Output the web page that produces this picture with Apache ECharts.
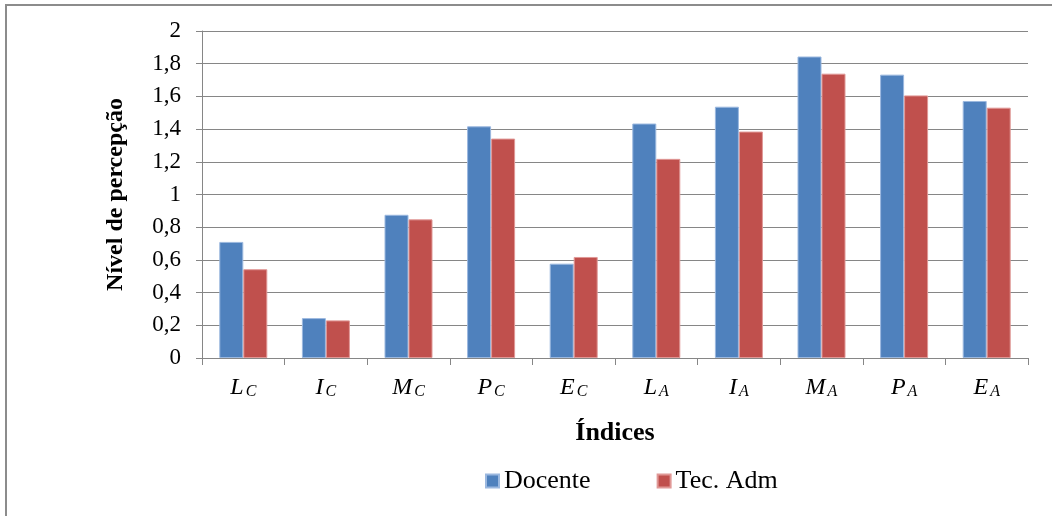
<!DOCTYPE html>
<html>
<head>
<meta charset="utf-8">
<script src="https://cdn.jsdelivr.net/npm/echarts@6/dist/echarts.min.js"></script>
<style>
  html, body { margin: 0; padding: 0; background: #fff; }
  #chart { width: 1052px; height: 516px; }
</style>
</head>
<body>
<div id="chart"></div>
<script>
// index letters: main letter + subscript
const indexMain = ["L", "I", "M", "P", "E", "L", "I", "M", "P", "E"];
const indexSub = ["C", "C", "C", "C", "C", "A", "A", "A", "A", "A"];

const docente = [0.71, 0.244, 0.876, 1.417, 0.577, 1.434, 1.537, 1.844, 1.733, 1.572];
const tecAdm = [0.543, 0.23, 0.848, 1.342, 0.618, 1.218, 1.385, 1.739, 1.606, 1.531];

const yTicks = ["0", "0,2", "0,4", "0,6", "0,8", "1", "1,2", "1,4", "1,6", "1,8", "2"];

const serif = "'Liberation Serif', 'DejaVu Serif', serif";
const axisGray = "#868686";

const chart = echarts.init(document.getElementById("chart"));

const categories = indexMain.map((m, i) => m + "_" + indexSub[i]);

const option = {
    backgroundColor: "#fff",
    animation: false,
    textStyle: { fontFamily: serif },
    graphic: [
        {
            // frame of the figure, only top and left edges visible
            type: "polyline",
            shape: { points: [[6, 700], [6, 5], [1300, 5]] },
            style: { fill: null, stroke: "#8c8c8c", lineWidth: 2 }
        }
    ],
    grid: { left: 202, right: 24, top: 31, bottom: 158 },
    legend: {
        data: ["Docente", "Tec. Adm"],
        left: 480,
        top: 463,
        itemWidth: 13,
        itemHeight: 13,
        itemGap: 66,
        icon: "rect",
        textStyle: { fontFamily: serif, fontSize: 26, color: "#000" }
    },
    xAxis: {
        type: "category",
        data: categories,
        name: "Índices",
        nameLocation: "middle",
        nameGap: 62,
        nameTextStyle: { fontFamily: serif, fontSize: 26, fontWeight: "bold", color: "#000" },
        axisLine: { lineStyle: { color: axisGray } },
        axisTick: { show: true, length: 7, interval: 0, lineStyle: { color: axisGray } },
        axisLabel: {
            margin: 18,
            interval: 0,
            formatter: (v) => {
                const [m, s] = v.split("_");
                return "{m|" + m + "}{s|" + s + "}";
            },
            rich: {
                m: { fontFamily: serif, fontStyle: "italic", fontSize: 24, color: "#000", verticalAlign: "bottom", lineHeight: 24 },
                s: { fontFamily: serif, fontStyle: "italic", fontSize: 16, color: "#000", verticalAlign: "bottom", lineHeight: 22, padding: [0, 0, 0, 2] }
            }
        }
    },
    yAxis: {
        type: "value",
        min: 0,
        max: 2,
        interval: 0.2,
        name: "Nível de percepção",
        nameLocation: "middle",
        nameGap: 74,
        nameRotate: 90,
        nameTextStyle: { fontFamily: serif, fontSize: 24, fontWeight: "bold", color: "#000" },
        axisLine: { show: true, lineStyle: { color: axisGray } },
        axisTick: { show: true, length: 6, lineStyle: { color: axisGray } },
        splitLine: { lineStyle: { color: axisGray, width: 1 } },
        axisLabel: {
            margin: 21,
            fontFamily: serif,
            fontSize: 23,
            color: "#000",
            formatter: (v) => yTicks[Math.round(v / 0.2)]
        }
    },
    series: [
        {
            name: "Docente",
            type: "bar",
            data: docente,
            barWidth: 24,
            barGap: "0%",
            itemStyle: { color: "#4F81BD", borderColor: "#9bb8df", borderWidth: 1 }
        },
        {
            name: "Tec. Adm",
            type: "bar",
            data: tecAdm,
            barWidth: 24,
            itemStyle: { color: "#C0504D", borderColor: "#e09896", borderWidth: 1 }
        }
    ]
};

chart.setOption(option);
</script>
</body>
</html>
